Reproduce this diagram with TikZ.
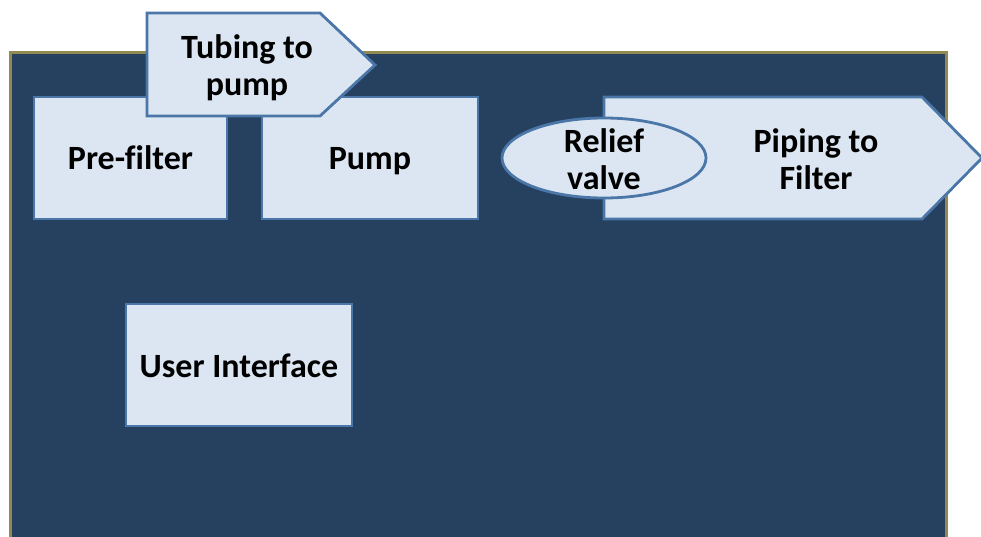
\documentclass[tikz,border=0pt]{standalone}
\usepackage{fontspec}
\setmainfont[Ligatures=CommonOff]{Carlito}
\usetikzlibrary{shapes.geometric}
\definecolor{bgnavy}{HTML}{26405F}
\definecolor{olive}{HTML}{938953}
\definecolor{boxfill}{HTML}{DCE6F2}
\definecolor{boxline}{HTML}{4A76A8}
\tikzset{
  part/.style={fill=boxfill, draw=boxline, line width=2.8pt},
  lbl/.style={font=\fontsize{34}{37}\selectfont\bfseries, align=center, inner sep=0pt},
}
\begin{document}
\begin{tikzpicture}[x=1pt,y=-1pt]
\useasboundingbox (0,0) rectangle (981,537);
\clip (0,0) rectangle (981,537);
\fill[white] (0,0) rectangle (981,537);
% housing
\draw[fill=bgnavy, draw=olive, line width=3pt] (10,53) rectangle (946,560);
% boxes
\draw[part] (34,97) rectangle (227,219);
\node[lbl] (pre) at (130.5,158) {Pre-filter};
\draw[part] (262,97) rectangle (478,219);
\node[lbl] (pump) at (370,161) {Pump};
\draw[part] (147,13) -- (320,13) -- (375,65) -- (320,116) -- (147,116) -- cycle;
\node[lbl] (tube) at (247,68) {Tubing to\\pump};
\draw[part] (604,97) -- (922,97) -- (982,158) -- (922,219) -- (604,219) -- cycle;
\node[lbl] (pipe) at (816,159) {Piping to\\Filter};
\draw[part] (604,158) ellipse [x radius=102, y radius=40];
\node[lbl] (valve) at (604,159) {Relief\\valve};
\draw[part] (126,304) rectangle (352,426);
\node[lbl] (ui) at (239,366) {User Interface};
\end{tikzpicture}
\end{document}
